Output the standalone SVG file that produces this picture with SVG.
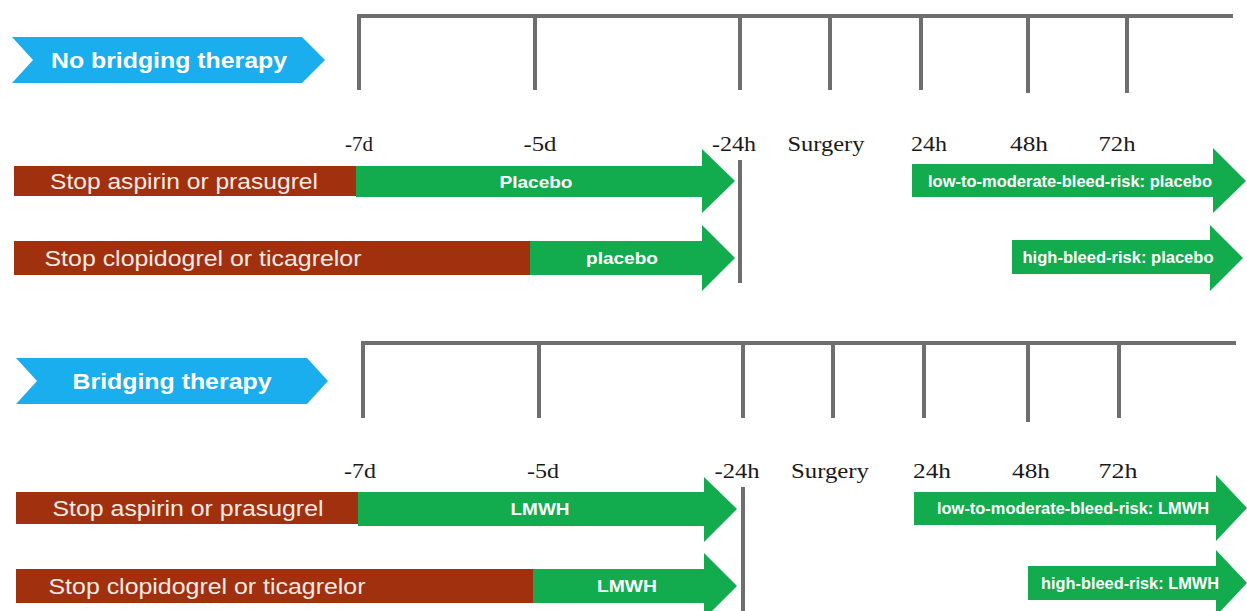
<svg xmlns="http://www.w3.org/2000/svg" width="1247" height="611" viewBox="0 0 1247 611">
<style>
.axis{stroke:#6e6e6e;stroke-width:4;fill:none;stroke-linecap:butt}
.banner{fill:#1aaeee}
.btxt{font-family:"Liberation Sans",Arial,sans-serif;font-weight:bold;font-size:22px;fill:#ffffff;text-anchor:middle}
.stop{fill:#a1300f}
.stxt{font-family:"Liberation Sans",Arial,sans-serif;font-size:22px;fill:#f6ebe6;text-anchor:middle}
.grn{fill:#12ab4e}
.gtxt{font-family:"Liberation Sans",Arial,sans-serif;font-weight:bold;font-size:16px;fill:#ffffff;text-anchor:middle}
.lbl{font-family:"Liberation Serif","Times New Roman",serif;font-size:22px;fill:#1a1a1a;text-anchor:middle}
</style>
<rect width="1247" height="611" fill="#ffffff"/>

<g id="timeline-top">
<path class="axis" d="M359,16 H1233 M359,14 V90 M535,16 V90 M740,16 V90 M830,16 V90 M921,16 V90 M1028,16 V93 M1127,16 V93"/>
<text class="lbl" x="359" y="151" textLength="28" lengthAdjust="spacingAndGlyphs">-7d</text>
<text class="lbl" x="540" y="151" textLength="33" lengthAdjust="spacingAndGlyphs">-5d</text>
<text class="lbl" x="734" y="151" textLength="44" lengthAdjust="spacingAndGlyphs">-24h</text>
<text class="lbl" x="826" y="151" textLength="77" lengthAdjust="spacingAndGlyphs">Surgery</text>
<text class="lbl" x="929" y="151" textLength="36" lengthAdjust="spacingAndGlyphs">24h</text>
<text class="lbl" x="1029" y="151" textLength="38" lengthAdjust="spacingAndGlyphs">48h</text>
<text class="lbl" x="1117" y="151" textLength="37" lengthAdjust="spacingAndGlyphs">72h</text>
</g>

<g id="banner-no-bridging">
<polygon class="banner" points="12,37 302,37 325,60 302,83 12,83 33,60"/>
<text class="btxt" x="169" y="68" textLength="236" lengthAdjust="spacingAndGlyphs">No bridging therapy</text>
</g>

<g id="top-row1">
<rect class="stop" x="14" y="166" width="342" height="30"/>
<text class="stxt" x="184" y="189" textLength="268" lengthAdjust="spacingAndGlyphs">Stop aspirin or prasugrel</text>
<polygon class="grn" points="356,166 702,166 702,149 735,181 702,213 702,197 356,197"/>
<text class="gtxt" x="536" y="188" font-size="17" textLength="73" lengthAdjust="spacingAndGlyphs">Placebo</text>
</g>

<g id="top-row2">
<rect class="stop" x="14" y="241" width="516" height="34"/>
<text class="stxt" x="203" y="266" textLength="317" lengthAdjust="spacingAndGlyphs">Stop clopidogrel or ticagrelor</text>
<polygon class="grn" points="530,241 702,241 702,225 735,258 702,291 702,275 530,275"/>
<text class="gtxt" x="622" y="264" textLength="72" lengthAdjust="spacingAndGlyphs">placebo</text>
</g>

<g id="top-post1">
<polygon class="grn" points="912,164 1213,164 1213,148 1246,181 1213,213 1213,197 912,197"/>
<text class="gtxt" x="1070" y="187" textLength="284" lengthAdjust="spacingAndGlyphs">low-to-moderate-bleed-risk:  placebo</text>
</g>

<g id="top-post2">
<polygon class="grn" points="1012,240 1210,240 1210,225 1243,258 1210,291 1210,274 1012,274"/>
<text class="gtxt" x="1118" y="263" textLength="191" lengthAdjust="spacingAndGlyphs">high-bleed-risk:  placebo</text>
</g>

<g id="timeline-bottom">
<path class="axis" d="M363,343 H1236 M363,341 V418 M539,343 V418 M743,343 V418 M833,343 V418 M924,343 V418 M1028,343 V422 M1119,343 V418"/>
<text class="lbl" x="360" y="478" textLength="32" lengthAdjust="spacingAndGlyphs">-7d</text>
<text class="lbl" x="543" y="478" textLength="32" lengthAdjust="spacingAndGlyphs">-5d</text>
<text class="lbl" x="737" y="478" textLength="45" lengthAdjust="spacingAndGlyphs">-24h</text>
<text class="lbl" x="830" y="478" textLength="78" lengthAdjust="spacingAndGlyphs">Surgery</text>
<text class="lbl" x="932" y="478" textLength="38" lengthAdjust="spacingAndGlyphs">24h</text>
<text class="lbl" x="1031" y="478" textLength="38" lengthAdjust="spacingAndGlyphs">48h</text>
<text class="lbl" x="1118" y="478" textLength="39" lengthAdjust="spacingAndGlyphs">72h</text>
</g>

<g id="banner-bridging">
<polygon class="banner" points="16,358 307,358 328,381 307,404 16,404 37,381"/>
<text class="btxt" x="172" y="389" textLength="199" lengthAdjust="spacingAndGlyphs">Bridging therapy</text>
</g>

<g id="bottom-row1">
<rect class="stop" x="16" y="492" width="342" height="32"/>
<text class="stxt" x="188" y="516" textLength="271" lengthAdjust="spacingAndGlyphs">Stop aspirin or prasugrel</text>
<polygon class="grn" points="358,492 704,492 704,477 737,509 704,542 704,526 358,526"/>
<text class="gtxt" x="540" y="515" font-size="17" textLength="59" lengthAdjust="spacingAndGlyphs">LMWH</text>
</g>

<g id="bottom-row2">
<rect class="stop" x="16" y="569" width="517" height="34"/>
<text class="stxt" x="207" y="594" textLength="317" lengthAdjust="spacingAndGlyphs">Stop clopidogrel or ticagrelor</text>
<polygon class="grn" points="533,569 704,569 704,553 737,586 704,619 704,603 533,603"/>
<text class="gtxt" x="627" y="592" font-size="17" textLength="60" lengthAdjust="spacingAndGlyphs">LMWH</text>
</g>

<g id="bottom-post1">
<polygon class="grn" points="914,492 1216,492 1216,475 1247,508 1216,541 1216,525 914,525"/>
<text class="gtxt" x="1073" y="514" textLength="272" lengthAdjust="spacingAndGlyphs">low-to-moderate-bleed-risk:  LMWH</text>
</g>

<g id="bottom-post2">
<polygon class="grn" points="1028,566 1216,566 1216,550 1247,583 1216,616 1216,600 1028,600"/>
<text class="gtxt" x="1130" y="589" textLength="178" lengthAdjust="spacingAndGlyphs">high-bleed-risk:  LMWH</text>
</g>

<g id="connectors">
<path class="axis" d="M740,160 V283 M743,487 V611"/>
</g>
</svg>
